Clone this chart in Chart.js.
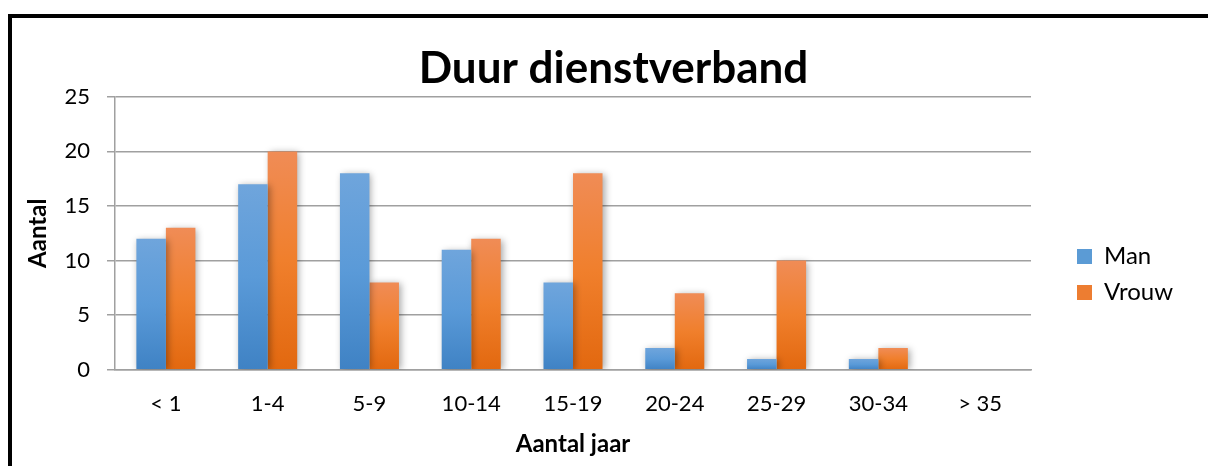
<!DOCTYPE html>
<html>
<head>
<meta charset="utf-8">
<script src="https://cdn.jsdelivr.net/npm/chart.js@4.4.1/dist/chart.umd.min.js"></script>
<style>
  html, body { margin: 0; padding: 0; background: #fff; }
  #wrap { position: relative; width: 1208px; height: 466px; }
  #frame {
    position: absolute; left: 8px; top: 14px; right: 0; bottom: 0;
    border-top: 4px solid #000; border-left: 4px solid #000;
  }
  #chart-box { position: absolute; left: 0; top: 0; width: 1208px; height: 466px; }
</style>
</head>
<body>
<div id="wrap">
  <div id="frame"></div>
  <div id="chart-box"><canvas id="duur-chart"></canvas></div>
</div>
<script>
const categorieen = ["< 1", "1-4", "5-9", "10-14", "15-19", "20-24", "25-29", "30-34", "> 35"];
const man = [12, 17, 18, 11, 8, 2, 1, 1, 0];
const vrouw = [13, 20, 8, 12, 18, 7, 10, 2, 0];
const yTicks = [0, 5, 10, 15, 20, 25];

const FONT = "Lato, 'Open Sans', sans-serif";

// gradient per bar: lighter at the top, darker at the bottom
function barGradient(top, mid, bottom) {
  return function (ctx) {
    const chart = ctx.chart;
    if (!chart.chartArea || ctx.type !== "data") return mid;
    const y = chart.scales.y;
    const y0 = y.getPixelForValue(ctx.raw || 0);
    const y1 = y.getPixelForValue(0);
    if (y1 - y0 < 1) return mid;
    const g = chart.ctx.createLinearGradient(0, y0, 0, y1);
    g.addColorStop(0, top);
    g.addColorStop(0.5, mid);
    g.addColorStop(1, bottom);
    return g;
  };
}

const shadowPlugin = {
  id: "barShadow",
  beforeDatasetsDraw(chart) {
    const c = chart.ctx;
    c.save();
    c.shadowColor = "rgba(0,0,0,0.35)";
    c.shadowBlur = 7;
    c.shadowOffsetX = 2;
    c.shadowOffsetY = 1;
  },
  afterDatasetsDraw(chart) {
    chart.ctx.restore();
  },
};

// nudge title and legend to where the original has them
const nudgePlugin = {
  id: "nudge",
  afterLayout(chart) {
    const t = chart.titleBlock;
    if (t) {
      t.left += 27;
      t.right += 27;
    }
    const l = chart.legend;
    if (l) {
      l.left += 34;
      l.right += 34;
      l.top += 22;
      l.bottom += 22;
    }
  },
};

new Chart(document.getElementById("duur-chart"), {
  type: "bar",
  data: {
    labels: categorieen,
    datasets: [
      {
        label: "Man",
        data: man,
        backgroundColor: barGradient("#6fa5dc", "#5a9ad8", "#3f82c4"),
        borderWidth: 0,
      },
      {
        label: "Vrouw",
        data: vrouw,
        backgroundColor: barGradient("#f08c56", "#f07f2c", "#e2680f"),
        borderWidth: 0,
      },
    ],
  },
  plugins: [shadowPlugin, nudgePlugin],
  options: {
    responsive: true,
    maintainAspectRatio: false,
    animation: false,
    datasets: {
      bar: { categoryPercentage: 0.58, barPercentage: 1 },
    },
    layout: { padding: { left: 24, right: 59, top: 42, bottom: 3 } },
    plugins: {
      title: {
        display: true,
        text: "Duur dienstverband",
        color: "#000",
        font: { family: FONT, size: 44, weight: "bold" },
        padding: { top: 0, bottom: 2 },
      },
      legend: {
        position: "right",
        labels: {
          color: "#000",
          font: { family: FONT, size: 24 },
          boxWidth: 15,
          boxHeight: 15,
          padding: 12,
          generateLabels(chart) {
            return [
              { text: "Man", fillStyle: "#5b9bd5", strokeStyle: "#5b9bd5", lineWidth: 0, datasetIndex: 0 },
              { text: "Vrouw", fillStyle: "#ed7d31", strokeStyle: "#ed7d31", lineWidth: 0, datasetIndex: 1 },
            ];
          },
        },
      },
      tooltip: { enabled: false },
    },
    scales: {
      x: {
        grid: { display: false },
        border: { color: "#a0a0a0", width: 1.5 },
        ticks: { color: "#000", font: { family: FONT, size: 22 }, padding: 13 },
        title: {
          display: true,
          text: "Aantal jaar",
          color: "#000",
          font: { family: FONT, size: 24, weight: "bold" },
          padding: { top: 0 },
        },
      },
      y: {
        min: 0,
        max: 25,
        afterBuildTicks(axis) {
          axis.ticks = yTicks.map((v) => ({ value: v }));
        },
        afterFit(axis) {
          axis.width = 91;
        },
        grid: { color: "#a0a0a0", lineWidth: 1.5, tickLength: 8 },
        border: { color: "#a0a0a0", width: 1.5 },
        ticks: { color: "#000", font: { family: FONT, size: 22 }, padding: 17 },
        title: {
          display: true,
          text: "Aantal",
          color: "#000",
          font: { family: FONT, size: 24, weight: "bold" },
          padding: 0,
        },
      },
    },
  },
});
</script>
</body>
</html>
